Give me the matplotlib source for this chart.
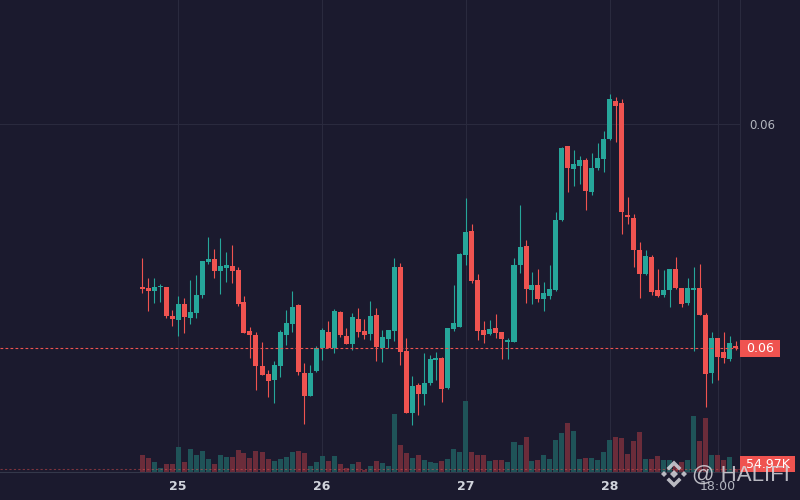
import matplotlib
matplotlib.use("Agg")
import matplotlib.pyplot as plt
import matplotlib.transforms as mtransforms
from matplotlib.patches import Rectangle, Polygon
import pandas as pd

# ---------------- data (hourly candles) ----------------
times = pd.date_range("2024-03-24 18:00", periods=100, freq="h")

opens = [0.05674, 0.05672, 0.05666, 0.05674, 0.05674, 0.05616, 0.05608, 0.05640, 0.05612, 0.05622,
         0.05658, 0.05724, 0.05730, 0.05706, 0.05712, 0.05716, 0.05708, 0.05644, 0.05586, 0.05578,
         0.05516, 0.05500, 0.05488, 0.05516, 0.05578, 0.05600, 0.05638, 0.05502, 0.05456, 0.05506,
         0.05552, 0.05584, 0.05552, 0.05624, 0.05576, 0.05560, 0.05610, 0.05586, 0.05580, 0.05618,
         0.05552, 0.05570, 0.05586, 0.05714, 0.05546, 0.05422, 0.05478, 0.05460, 0.05482, 0.05528,
         0.05532, 0.05472, 0.05590, 0.05594, 0.05738, 0.05786, 0.05688, 0.05588, 0.05580, 0.05592,
         0.05584, 0.05564, 0.05564, 0.05718, 0.05756, 0.05668, 0.05678, 0.05650, 0.05656, 0.05668,
         0.05808, 0.05956, 0.05910, 0.05916, 0.05928, 0.05864, 0.05912, 0.05930, 0.05970, 0.06046,
         0.06042, 0.05818, 0.05812, 0.05748, 0.05700, 0.05734, 0.05668, 0.05658, 0.05668, 0.05710,
         0.05672, 0.05642, 0.05668, 0.05672, 0.05618, 0.05502, 0.05572, 0.05544, 0.05530, 0.05556]

highs = [0.05732, 0.05692, 0.05692, 0.05680, 0.05674, 0.05628, 0.05656, 0.05652, 0.05688, 0.05698,
         0.05726, 0.05774, 0.05750, 0.05772, 0.05744, 0.05758, 0.05714, 0.05656, 0.05594, 0.05584,
         0.05564, 0.05508, 0.05526, 0.05588, 0.05628, 0.05666, 0.05640, 0.05522, 0.05518, 0.05556,
         0.05592, 0.05606, 0.05630, 0.05626, 0.05592, 0.05622, 0.05632, 0.05610, 0.05646, 0.05632,
         0.05588, 0.05588, 0.05732, 0.05722, 0.05572, 0.05496, 0.05482, 0.05542, 0.05538, 0.05544,
         0.05534, 0.05592, 0.05678, 0.05742, 0.05852, 0.05800, 0.05700, 0.05606, 0.05608, 0.05620,
         0.05584, 0.05572, 0.05732, 0.05838, 0.05768, 0.05704, 0.05710, 0.05684, 0.05718, 0.05824,
         0.05954, 0.05956, 0.05948, 0.05936, 0.05932, 0.05942, 0.05962, 0.05986, 0.06060, 0.06054,
         0.06050, 0.05854, 0.05820, 0.05764, 0.05748, 0.05738, 0.05710, 0.05708, 0.05710, 0.05734,
         0.05672, 0.05692, 0.05714, 0.05720, 0.05622, 0.05584, 0.05572, 0.05584, 0.05576, 0.05566]

lows = [0.05662, 0.05626, 0.05642, 0.05644, 0.05612, 0.05596, 0.05576, 0.05582, 0.05600, 0.05612,
        0.05652, 0.05720, 0.05692, 0.05660, 0.05684, 0.05682, 0.05636, 0.05582, 0.05532, 0.05468,
        0.05498, 0.05454, 0.05442, 0.05494, 0.05558, 0.05584, 0.05498, 0.05400, 0.05456, 0.05504,
        0.05528, 0.05552, 0.05542, 0.05574, 0.05560, 0.05548, 0.05574, 0.05570, 0.05568, 0.05526,
        0.05524, 0.05552, 0.05566, 0.05518, 0.05422, 0.05398, 0.05418, 0.05438, 0.05478, 0.05488,
        0.05444, 0.05470, 0.05586, 0.05594, 0.05718, 0.05682, 0.05568, 0.05562, 0.05578, 0.05572,
        0.05530, 0.05530, 0.05564, 0.05702, 0.05642, 0.05640, 0.05644, 0.05626, 0.05650, 0.05666,
        0.05806, 0.05864, 0.05876, 0.05880, 0.05828, 0.05858, 0.05908, 0.05904, 0.05968, 0.05964,
        0.05780, 0.05800, 0.05714, 0.05652, 0.05698, 0.05658, 0.05654, 0.05654, 0.05634, 0.05670,
        0.05634, 0.05638, 0.05546, 0.05618, 0.05434, 0.05482, 0.05488, 0.05522, 0.05526, 0.05548]

closes = [0.05670, 0.05666, 0.05674, 0.05676, 0.05616, 0.05610, 0.05640, 0.05614, 0.05624, 0.05658,
          0.05726, 0.05730, 0.05706, 0.05716, 0.05718, 0.05706, 0.05640, 0.05582, 0.05578, 0.05516,
          0.05498, 0.05486, 0.05518, 0.05584, 0.05602, 0.05634, 0.05504, 0.05456, 0.05502, 0.05552,
          0.05588, 0.05552, 0.05626, 0.05578, 0.05560, 0.05614, 0.05584, 0.05578, 0.05616, 0.05554,
          0.05574, 0.05588, 0.05714, 0.05544, 0.05422, 0.05476, 0.05460, 0.05482, 0.05530, 0.05532,
          0.05470, 0.05592, 0.05602, 0.05740, 0.05784, 0.05686, 0.05586, 0.05578, 0.05590, 0.05582,
          0.05570, 0.05568, 0.05718, 0.05754, 0.05670, 0.05678, 0.05650, 0.05662, 0.05670, 0.05808,
          0.05952, 0.05912, 0.05920, 0.05928, 0.05866, 0.05912, 0.05932, 0.05970, 0.06050, 0.06036,
          0.05824, 0.05814, 0.05748, 0.05700, 0.05736, 0.05664, 0.05656, 0.05668, 0.05710, 0.05672,
          0.05640, 0.05672, 0.05672, 0.05618, 0.05500, 0.05572, 0.05534, 0.05532, 0.05562, 0.05552]

volumes_k = [340, 279, 197, 75, 157, 157, 503, 197, 462, 340,
             421, 259, 157, 340, 299, 299, 442, 381, 279, 421,
             401, 259, 218, 259, 299, 401, 421, 381, 116, 197,
             320, 218, 320, 157, 75, 157, 197, 35, 116, 218,
             177, 116, 1175, 544, 381, 279, 340, 238, 197, 177,
             218, 259, 462, 401, 1439, 401, 340, 340, 218, 238,
             238, 197, 605, 544, 707, 218, 238, 340, 259, 645,
             788, 992, 829, 259, 279, 279, 238, 401, 645, 707,
             686, 360, 625, 808, 259, 259, 320, 238, 238, 136,
             197, 238, 1134, 625, 1093, 340, 340, 238, 299, 54.97]

price_ticks = [0.06]
watermark = "@ HALIFI"

# ---------------- style ----------------
BG = "#1b1a2e"
UP, DOWN = "#26a69a", "#ef5350"
UP_VOL, DOWN_VOL = "#1f5358", "#6b2c3a"
GRID = "#2a2a3e"
TXT = "#b2b5be"
TXT_DAY = "#d1d4dc"

W, H = 800, 500
PLOT_R, PLOT_B = 740, 472          # plot area right / bottom (px)
X0, STEP = 142, 6                  # first candle centre, candle spacing (px)
PRICE_LIM = (0.05304, 0.06248)
VOL_TOP = 9610                     # volume axis top (K)

fig = plt.figure(figsize=(W / 100, H / 100), dpi=100, facecolor=BG)
rect = [0, 1 - PLOT_B / H, PLOT_R / W, PLOT_B / H]
vax = fig.add_axes(rect)
vax.set_facecolor(BG)
vax.set_zorder(0)
ax = fig.add_axes(rect, sharex=vax)
ax.set_zorder(1)
ax.patch.set_alpha(0)

n = len(closes)
xs = list(range(n))
up = [c >= o for o, c in zip(opens, closes)]
ccol = [UP if u else DOWN for u in up]
vcol = [UP_VOL if u else DOWN_VOL for u in up]

ax.set_xlim(-X0 / STEP, (PLOT_R - X0) / STEP)
ax.set_ylim(*PRICE_LIM)
vax.set_ylim(0, VOL_TOP)
dpp = (PRICE_LIM[1] - PRICE_LIM[0]) / PLOT_B

# grid
tick_idx = [i for i, t in enumerate(times) if t.hour == 0]
tick_lab = [str(times[i].day) for i in tick_idx]
extra_idx = [i for i, t in enumerate(times) if t.day == 28 and t.hour == 18]
extra_lab = [times[i].strftime("%H:%M") for i in extra_idx]
for i in tick_idx + extra_idx:
    vax.axvline(i, color=GRID, lw=0.8, zorder=0)
for p in price_ticks:
    vax.axhline(VOL_TOP * (p - PRICE_LIM[0]) / (PRICE_LIM[1] - PRICE_LIM[0]),
                color=GRID, lw=0.8, zorder=0)

# volume
vax.bar(xs, volumes_k, width=5 / 6, color=vcol, linewidth=0, zorder=1)
vax.axhline(volumes_k[-1], color=DOWN if not up[-1] else UP, alpha=0.45, lw=0.8,
            ls=(0, (2, 2)), zorder=2)

# candles
bottoms = [min(o, c) for o, c in zip(opens, closes)]
heights = [max(abs(c - o), dpp) for o, c in zip(opens, closes)]
ax.vlines(xs, lows, highs, colors=ccol, linewidth=0.8, zorder=2)
ax.bar(xs, heights, bottom=bottoms, width=5 / 6, color=ccol, linewidth=0, zorder=3)

# last price line
last_col = UP if up[-1] else DOWN
ax.axhline(closes[-1], color=last_col, lw=0.8, ls=(0, (2.5, 2)), zorder=4)

# axes styling
for a in (ax, vax):
    for s in ("top", "left"):
        a.spines[s].set_visible(False)
for s in ("right", "bottom"):
    vax.spines[s].set_visible(False)
ax.spines["right"].set_color(GRID)
ax.spines["right"].set_linewidth(0.8)
ax.spines["bottom"].set_color("#34384a")
ax.spines["bottom"].set_linewidth(0.8)
vax.tick_params(left=False, labelleft=False, bottom=False, labelbottom=False)

ax.set_xticks(tick_idx + extra_idx)
ax.set_xticklabels(tick_lab + extra_lab)
ax.tick_params(axis="x", length=0, pad=5.5, labelsize=9, colors=TXT)
for lab in ax.get_xticklabels():
    if lab.get_text() in tick_lab:
        lab.set_fontweight("bold")
        lab.set_color(TXT_DAY)
ax.yaxis.tick_right()
ax.set_yticks(price_ticks)
ax.set_yticklabels([f"{p:.2f}" for p in price_ticks])
ax.tick_params(axis="y", length=0, pad=7, labelsize=8.5, colors=TXT)

# last price label
bt = mtransforms.blended_transform_factory(fig.transFigure, ax.transData)
hh = 8.5 * dpp
fig.add_artist(Rectangle((PLOT_R / W, closes[-1] - hh), 40 / W, 2 * hh, transform=bt,
                         facecolor=last_col, edgecolor="none", zorder=10))
fig.text((PLOT_R + 20) / W, closes[-1], f"{closes[-1]:.2f}", transform=bt, color="white",
         fontsize=9, ha="center", va="center", zorder=11)

# pixel transform (y from top)
pxT = mtransforms.Affine2D().scale(1 / W, -1 / H).translate(0, 1) + fig.transFigure

# last volume label
fig.add_artist(Rectangle((PLOT_R, 456), 55, 16, transform=pxT, facecolor=DOWN,
                         edgecolor="none", zorder=10))
fig.text(PLOT_R + 27.5, 464.5, f"{volumes_k[-1]:.2f}K", transform=pxT, color="white",
         fontsize=9, ha="center", va="center", zorder=11)

# watermark logo + text
cx, cy = 674, 474
shapes = [
    [(0, 4), (4, 0), (0, -4), (-4, 0)],
    [(-10, 3), (-7, 0), (-10, -3), (-13, 0)],
    [(10, 3), (13, 0), (10, -3), (7, 0)],
    [(-7.5, 6), (0, 13.5), (7.5, 6), (5, 3.5), (0, 8.5), (-5, 3.5)],
    [(-7.5, -6), (0, -13.5), (7.5, -6), (5, -3.5), (0, -8.5), (-5, -3.5)],
]
for sh in shapes:
    fig.add_artist(Polygon([(cx + u, cy - v) for u, v in sh], closed=True, transform=pxT,
                           facecolor="#d6d6dc", edgecolor="none", alpha=0.85, zorder=12))
fig.text(692, 475, watermark, transform=pxT, fontsize=16, family="Liberation Sans",
         color="#d6d6dc", alpha=0.85, ha="left", va="center", zorder=12)

fig.savefig("out.png", dpi=100, facecolor=BG)
